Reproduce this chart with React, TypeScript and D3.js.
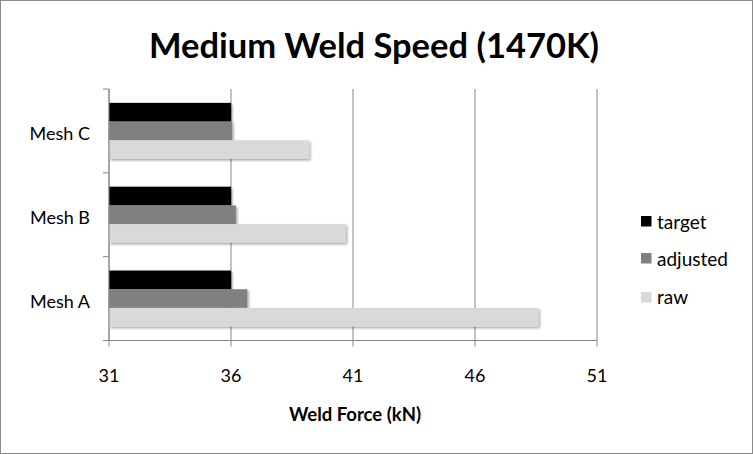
import React from "react";
import * as d3 from "d3";

const categories = ["Mesh A", "Mesh B", "Mesh C"];
const seriesNames = ["target", "adjusted", "raw"];
const targetValues = [36, 36, 36];
const adjustedValues = [36.67, 36.2, 36.05];
const rawValues = [48.6, 40.7, 39.2];
const xTicks = [31, 36, 41, 46, 51];
const colors = ["#000000", "#808080", "#d9d9d9"];

const W = 753;
const H = 454;
const FONT = "Lato, 'Open Sans', sans-serif";

export default function App() {
  const left = 109, right = 597, top = 89, bottom = 340.5;
  const x = d3.scaleLinear().domain([31, 51]).range([left, right]);
  // Mesh A at bottom
  const y = d3.scaleBand<string>().domain([...categories].reverse()).range([top, bottom]);
  const bandH = y.bandwidth();
  const barH = 18.7;
  const groupH = barH * 3;
  const series = [targetValues, adjustedValues, rawValues];

  return (
    <svg width={W} height={H} style={{ position: "absolute", left: 0, top: 0 }} xmlns="http://www.w3.org/2000/svg">
      <defs>
        <filter id="sh" x="-5%" y="-20%" width="115%" height="160%">
          <feDropShadow dx="1.5" dy="1.5" stdDeviation="1.2" floodColor="#000" floodOpacity="0.35" />
        </filter>
      </defs>
      <rect x={0.5} y={0.5} width={W - 1} height={H - 1} fill="#fff" stroke="#8c8c8c" strokeWidth={1} />
      <text x={374} y={58} textAnchor="middle" fontFamily={FONT} fontWeight="bold" fontSize={34.5} fill="#000">
        Medium Weld Speed (1470K)
      </text>
      {/* gridlines */}
      {xTicks.map((t) => (
        <line key={"g" + t} x1={x(t)} x2={x(t)} y1={top} y2={bottom + 6} stroke="#868686" strokeWidth={1} />
      ))}
      {/* bars */}
      {categories.map((c, ci) => {
        const y0 = (y(c) as number) + (bandH - groupH) / 2;
        return series.map((vals, si) => (
          <rect
            key={c + si}
            x={x(31)}
            y={y0 + si * barH}
            width={x(vals[ci]) - x(31)}
            height={barH}
            fill={colors[si]}
            filter="url(#sh)"
          />
        ));
      })}
      {/* y axis */}
      <line x1={left} x2={left} y1={top} y2={bottom} stroke="#868686" strokeWidth={1} />
      {[top, ...categories.map((c) => (y(c) as number) + bandH)].map((v, i) => (
        <line key={"yt" + i} x1={left - 6} x2={left} y1={v} y2={v} stroke="#868686" strokeWidth={1} />
      ))}
      {/* x axis */}
      <line x1={left - 6} x2={right} y1={bottom} y2={bottom} stroke="#868686" strokeWidth={1} />
      {xTicks.map((t) => (
        <text key={"xl" + t} x={x(t)} y={382} textAnchor="middle" fontFamily={FONT} fontSize={18} fill="#000">
          {t}
        </text>
      ))}
      {categories.map((c) => (
        <text key={"yl" + c} x={90} y={(y(c) as number) + bandH / 2 + 9} textAnchor="end" fontFamily={FONT} fontSize={18} fill="#000">
          {c}
        </text>
      ))}
      <text x={355} y={421} textAnchor="middle" fontFamily={FONT} fontWeight="bold" fontSize={18.5} fill="#000">
        Weld Force (kN)
      </text>
      {/* legend */}
      {seriesNames.map((s, i) => {
        const sy = [216, 253, 292][i];
        const by = [228.5, 265.5, 304][i];
        return (
          <g key={s}>
            <rect x={641} y={sy} width={10.5} height={10.5} fill={colors[i]} />
            <text x={657} y={by} fontFamily={FONT} fontSize={19} fill="#000">
              {s}
            </text>
          </g>
        );
      })}
    </svg>
  );
}
